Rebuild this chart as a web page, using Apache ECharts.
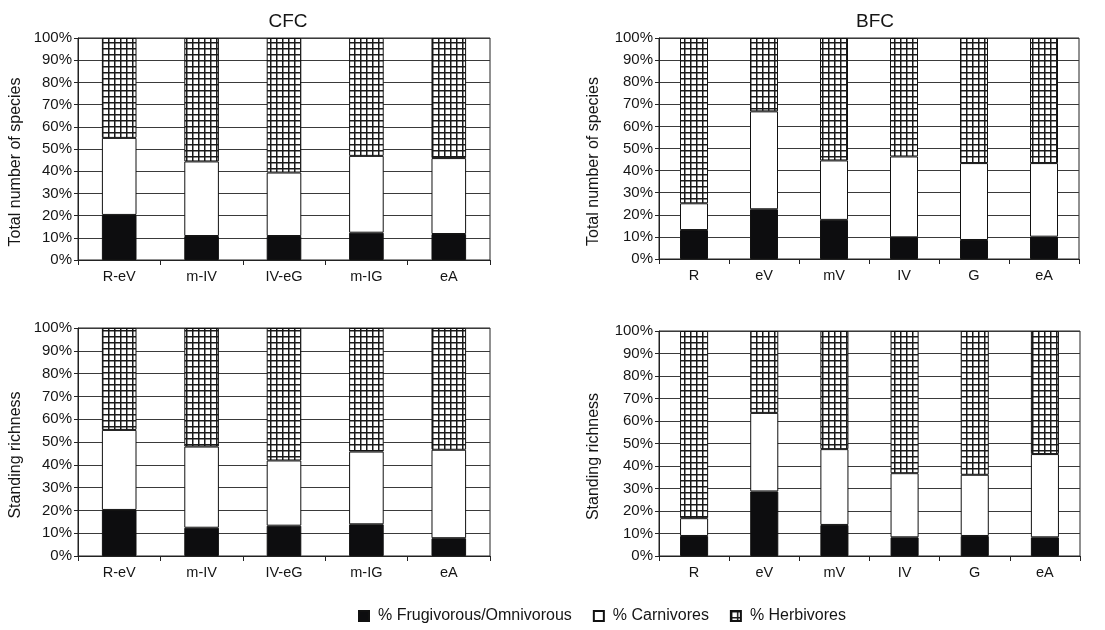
<!DOCTYPE html>
<html>
<head>
<meta charset="utf-8">
<script src="https://cdn.jsdelivr.net/npm/echarts@6/dist/echarts.min.js"></script>
<style>
  html, body { margin: 0; padding: 0; background: #fff; }
  #chart { width: 1105px; height: 630px; }
</style>
</head>
<body>
<div id="chart"></div>
<script>
// Categories (time periods) for each formation
const cfcCategories = ['R-eV', 'm-IV', 'IV-eG', 'm-IG', 'eA'];
const bfcCategories = ['R', 'eV', 'mV', 'IV', 'G', 'eA'];

// Trophic group shares (%) — total number of species
const cfcSpeciesFrugivorous = [20.3, 10.8, 10.8, 12.3, 11.7];
const cfcSpeciesCarnivores  = [34.7, 33.6, 28.6, 34.6, 34.2];
const cfcSpeciesHerbivores  = [45.0, 55.6, 60.6, 53.1, 54.1];

const bfcSpeciesFrugivorous = [13.1, 22.5, 17.7, 9.8, 8.6, 10.1];
const bfcSpeciesCarnivores  = [12.1, 44.3, 26.9, 36.6, 34.8, 33.3];
const bfcSpeciesHerbivores  = [74.8, 33.2, 55.4, 53.6, 56.6, 56.6];

// Trophic group shares (%) — standing richness
const cfcRichnessFrugivorous = [20.2, 12.4, 13.3, 13.9, 7.8];
const cfcRichnessCarnivores  = [35.1, 35.6, 28.6, 31.9, 38.8];
const cfcRichnessHerbivores  = [44.7, 52.0, 58.1, 54.2, 53.4];

const bfcRichnessFrugivorous = [8.9, 28.7, 13.8, 8.3, 8.9, 8.3];
const bfcRichnessCarnivores  = [7.9, 34.9, 33.7, 28.5, 27.2, 37.0];
const bfcRichnessHerbivores  = [83.2, 36.4, 52.5, 63.2, 63.9, 54.7];

const groupNames = ['% Frugivorous/Omnivorous', '% Carnivores', '% Herbivores'];

// Grid hatch used for the herbivore segments
function makeHatch() {
  const c = document.createElement('canvas');
  c.width = 6; c.height = 6;
  const ctx = c.getContext('2d');
  ctx.fillStyle = '#ffffff';
  ctx.fillRect(0, 0, 6, 6);
  ctx.fillStyle = '#1a1a1a';
  ctx.fillRect(0, 0, 6, 1.5);
  ctx.fillRect(0, 0, 1.5, 6);
  return c;
}
const hatch = { image: makeHatch(), repeat: 'repeat' };

const fontFamily = '"Liberation Sans", Arial, Helvetica, sans-serif';
const textColor = '#151515';

const panels = [
  { cats: cfcCategories, data: [cfcSpeciesFrugivorous, cfcSpeciesCarnivores, cfcSpeciesHerbivores],
    grid: { left: 78, top: 38, width: 412, height: 222 }, yName: 'Total number of species', nameGap: 54, barWidth: '42%' },
  { cats: bfcCategories, data: [bfcSpeciesFrugivorous, bfcSpeciesCarnivores, bfcSpeciesHerbivores],
    grid: { left: 659, top: 38, width: 420, height: 221 }, yName: 'Total number of species', nameGap: 57, barWidth: '40%' },
  { cats: cfcCategories, data: [cfcRichnessFrugivorous, cfcRichnessCarnivores, cfcRichnessHerbivores],
    grid: { left: 78, top: 328, width: 412, height: 228 }, yName: 'Standing richness', nameGap: 54, barWidth: '42%' },
  { cats: bfcCategories, data: [bfcRichnessFrugivorous, bfcRichnessCarnivores, bfcRichnessHerbivores],
    grid: { left: 659, top: 331, width: 421, height: 225 }, yName: 'Standing richness', nameGap: 57, barWidth: '40%' }
];

const fills = ['#0d0d0f', '#ffffff', hatch];

const grids = [], xAxes = [], yAxes = [], series = [];
panels.forEach((p, i) => {
  grids.push(Object.assign({ show: true, borderColor: '#222', borderWidth: 1, backgroundColor: 'transparent' }, p.grid));
  xAxes.push({
    type: 'category', gridIndex: i, data: p.cats,
    axisLine: { lineStyle: { color: '#222', width: 1 } },
    axisTick: { show: true, length: 5, inside: false, lineStyle: { color: '#222' } },
    axisLabel: { color: textColor, fontSize: 14.5, fontFamily, margin: 9 }
  });
  yAxes.push({
    type: 'value', gridIndex: i, min: 0, max: 100, interval: 10,
    name: p.yName, nameLocation: 'middle', nameGap: p.nameGap, nameRotate: 90,
    // right padding nudges the vertical title slightly below the plot centre
    nameTextStyle: { color: textColor, fontSize: 16, fontFamily, padding: [0, 26, 0, 0] },
    axisLine: { show: true, lineStyle: { color: '#222', width: 1 } },
    axisTick: { show: true, length: 4, lineStyle: { color: '#222' } },
    axisLabel: { color: textColor, fontSize: 15, fontFamily, margin: 6, formatter: '{value}%' },
    splitLine: { show: true, lineStyle: { color: '#3a3a3a', width: 1 } }
  });
  p.data.forEach((vals, k) => {
    series.push({
      type: 'bar', name: groupNames[k], xAxisIndex: i, yAxisIndex: i,
      stack: 'panel' + i, data: vals, barWidth: p.barWidth,
      itemStyle: { color: fills[k], borderColor: '#111', borderWidth: 1 },
      emphasis: { disabled: true },
      animation: false
    });
  });
});

const chart = echarts.init(document.getElementById('chart'), null, { renderer: 'canvas' });
chart.setOption({
  animation: false,
  backgroundColor: '#ffffff',
  title: [
    { text: 'CFC', left: 283, top: 7, textAlign: 'center',
      textStyle: { fontSize: 19, fontWeight: 'normal', color: textColor, fontFamily } },
    { text: 'BFC', left: 870, top: 7, textAlign: 'center',
      textStyle: { fontSize: 19, fontWeight: 'normal', color: textColor, fontFamily } }
  ],
  legend: {
    data: groupNames, left: 353, top: 603, itemWidth: 10, itemHeight: 10, itemGap: 21,
    icon: 'rect',
    textStyle: { color: textColor, fontSize: 16, fontFamily, padding: [0, 0, 0, 4] }
  },
  grid: grids,
  xAxis: xAxes,
  yAxis: yAxes,
  series: series
});
</script>
</body>
</html>
